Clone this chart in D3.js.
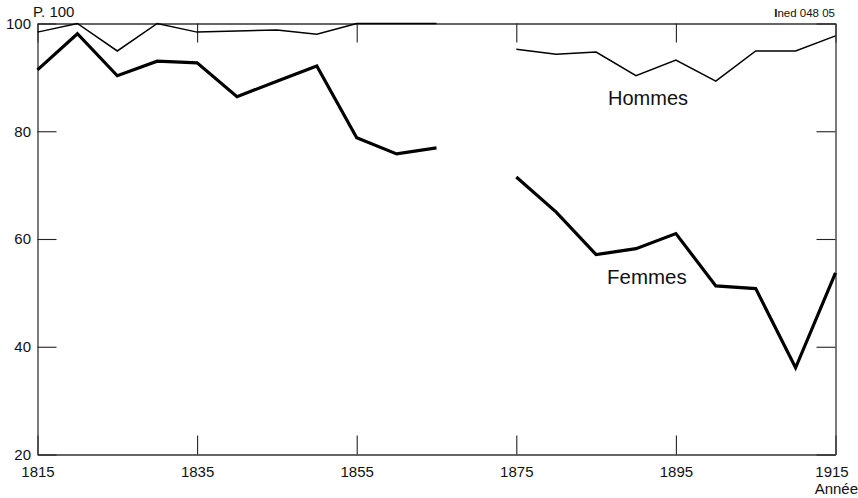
<!DOCTYPE html>
<html><head><meta charset="utf-8">
<script src="https://cdn.jsdelivr.net/npm/d3@7"></script>
<style>
body{margin:0;background:#fff;}
svg{display:block;font-family:"Liberation Sans",Arial,Helvetica,sans-serif;}
</style></head>
<body><svg id="c" width="858" height="498"></svg>
<script>
const years = [1815,1820,1825,1830,1835,1840,1845,1850,1855,1860,1865,1870,1875,1880,1885,1890,1895,1900,1905,1910,1915];
const hommes = [98.4,100,94.9,100,98.4,98.6,98.8,98.0,100,100,100,null,95.2,94.3,94.7,90.3,93.2,89.3,94.9,94.9,97.7];
const femmes = [91.4,98.1,90.3,93.0,92.7,86.4,89.3,92.1,78.8,75.8,76.9,null,71.5,65.0,57.1,58.2,61.0,51.3,50.8,36.1,53.7];
const xTicks = [1815,1835,1855,1875,1895,1915];
const yTicks = [20,40,60,80,100];
const seriesLabels = ["Hommes","Femmes"];

const svg = d3.select("#c");
const L=37.5,R=835.5,T=23.5,B=454.5;
const x = d3.scaleLinear().domain([1815,1915]).range([L,R]);
const y = d3.scaleLinear().domain([20,100]).range([B,T]);

const axStyle = g => {
  g.select(".domain").attr("stroke","#333").attr("stroke-width",1.3);
  g.selectAll(".tick line").attr("stroke","#222").attr("stroke-width",1.1);
  g.selectAll(".tick text").attr("font-size","15px").attr("fill","#111").attr("font-family","Liberation Sans, Arial, sans-serif");
};

const bottom = svg.append("g").attr("transform",`translate(0,${B})`)
  .call(d3.axisBottom(x).tickValues(xTicks).tickFormat(d3.format("d")).tickSizeInner(-19).tickSizeOuter(0).tickPadding(11.5))
  .call(axStyle);
bottom.selectAll(".tick text").filter(d=>d===1915).attr("dx",-4);
svg.append("g").attr("transform",`translate(0,${T})`)
  .call(d3.axisTop(x).tickValues(xTicks).tickFormat("").tickSizeInner(-19).tickSizeOuter(0))
  .call(axStyle);
svg.append("g").attr("transform",`translate(${L},0)`)
  .call(d3.axisLeft(y).tickValues(yTicks).tickFormat(d3.format("d")).tickSizeInner(-19).tickSizeOuter(0).tickPadding(6.5))
  .call(axStyle);
svg.append("g").attr("transform",`translate(${R},0)`)
  .call(d3.axisRight(y).tickValues(yTicks).tickFormat("").tickSizeInner(-19).tickSizeOuter(0))
  .call(axStyle);

const line = d3.line().defined(d=>d[1]!=null).x(d=>x(d[0])).y(d=>y(d[1]));
svg.append("path").datum(years.map((yr,i)=>[yr,hommes[i]]))
  .attr("d",line).attr("fill","none").attr("stroke","#000").attr("stroke-width",1.5).attr("stroke-linejoin","miter");
svg.append("path").datum(years.map((yr,i)=>[yr,femmes[i]]))
  .attr("d",line).attr("fill","none").attr("stroke","#000").attr("stroke-width",3.2).attr("stroke-linejoin","miter");

svg.append("text").attr("x",608).attr("y",105).attr("font-size","20px").attr("fill","#111").text(seriesLabels[0]);
svg.append("text").attr("x",607).attr("y",284).attr("font-size","20.5px").attr("fill","#111").text(seriesLabels[1]);

svg.append("text").attr("x",33).attr("y",17).attr("font-size","15px").attr("fill","#111").text("P. 100");
svg.append("text").attr("x",858).attr("y",494).attr("text-anchor","end").attr("font-size","15px").attr("fill","#111").text("Année");
const ined = svg.append("text").attr("x",835).attr("y",17).attr("text-anchor","end").attr("font-size","11.5px").attr("fill","#111");
ined.append("tspan").attr("font-weight","bold").text("I");
ined.append("tspan").text("ned 048 05");
</script></body></html>
